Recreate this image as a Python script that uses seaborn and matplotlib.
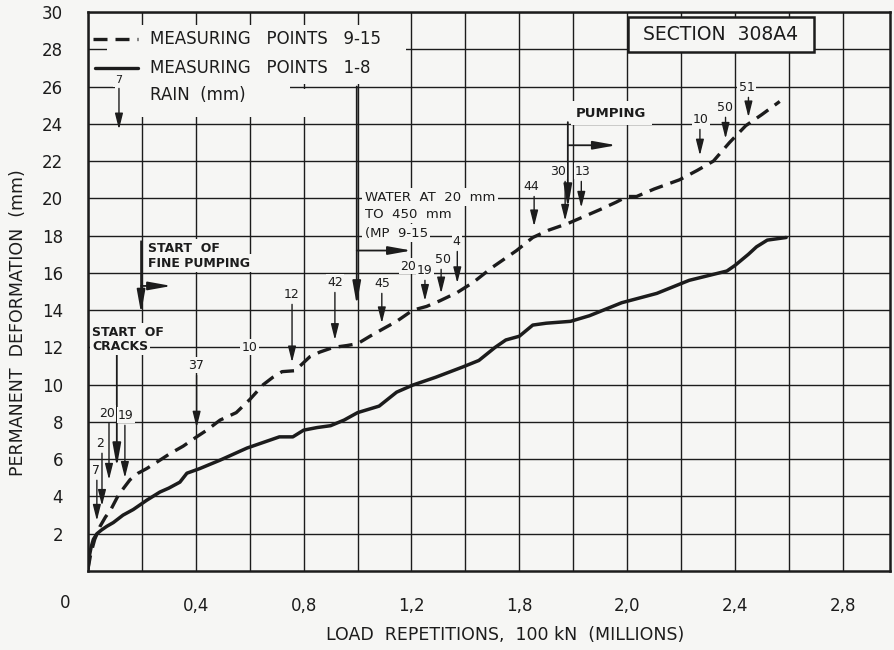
import matplotlib
matplotlib.use("Agg")
import matplotlib.pyplot as plt
from matplotlib.ticker import MultipleLocator
from matplotlib.patches import Rectangle
import pandas as pd
import seaborn as sns

# ---------------- data ----------------
mp9_x = [0.0, 0.01, 0.025, 0.045, 0.065, 0.085, 0.112, 0.135, 0.156, 0.186, 0.218,
         0.267, 0.304, 0.353, 0.403, 0.44, 0.49, 0.55, 0.60, 0.65, 0.686, 0.72,
         0.767, 0.79, 0.823, 0.86, 0.91, 0.96, 1.0, 1.046, 1.095, 1.145, 1.205,
         1.256, 1.305, 1.37, 1.43, 1.50, 1.59, 1.65, 1.71, 1.78, 1.82, 1.90,
         1.96, 2.0, 2.035, 2.10, 2.195, 2.26, 2.32, 2.38, 2.44, 2.50, 2.566]
mp9_y = [0.1, 0.9, 1.7, 2.4, 2.9, 3.3, 4.05, 4.5, 4.9, 5.25, 5.5,
         5.95, 6.3, 6.7, 7.2, 7.55, 8.1, 8.5, 9.2, 10.0, 10.4, 10.7,
         10.75, 11.05, 11.5, 11.75, 12.0, 12.1, 12.2, 12.6, 13.0, 13.4, 14.0,
         14.2, 14.5, 14.95, 15.5, 16.3, 17.2, 17.9, 18.3, 18.65, 18.9, 19.4,
         19.8, 20.1, 20.1, 20.5, 21.0, 21.5, 22.0, 23.0, 23.9, 24.5, 25.2]

mp1_x = [0.0, 0.005, 0.012, 0.02, 0.033, 0.05, 0.07, 0.094, 0.13, 0.168, 0.218,
         0.267, 0.30, 0.341, 0.367, 0.415, 0.49, 0.59, 0.65, 0.71, 0.76, 0.80,
         0.85, 0.90, 0.95, 1.0, 1.08, 1.145, 1.205, 1.29, 1.39, 1.45, 1.51,
         1.55, 1.60, 1.65, 1.70, 1.79, 1.86, 1.98, 2.11, 2.23, 2.37, 2.40,
         2.45, 2.48, 2.52, 2.59]
mp1_y = [0.1, 0.8, 1.3, 1.7, 2.0, 2.2, 2.4, 2.6, 3.0, 3.3, 3.8,
         4.24, 4.45, 4.77, 5.25, 5.5, 5.95, 6.6, 6.9, 7.2, 7.2, 7.56,
         7.7, 7.8, 8.1, 8.5, 8.85, 9.6, 9.98, 10.4, 10.95, 11.3, 12.0,
         12.4, 12.6, 13.2, 13.3, 13.4, 13.7, 14.4, 14.9, 15.6, 16.1, 16.4,
         17.0, 17.4, 17.76, 17.9]

# rain events (mm): label, arrow x, label position, arrow tip
rain_labels = ['7', '2', '20', '19', '37', '12', '42', '45', '19', '50', '4',
               '44', '30', '13', '10', '50', '51']
rain_x      = [0.033, 0.052, 0.078, 0.137, 0.403, 0.757, 0.916, 1.09, 1.25, 1.31, 1.37,
               1.655, 1.77, 1.83, 2.27, 2.365, 2.45]
rain_text_x = [0.030, 0.045, 0.070, 0.141, 0.400, 0.757, 0.916, 1.09, 1.25, 1.316, 1.368,
               1.643, 1.743, 1.835, 2.273, 2.362, 2.443]
rain_text_y = [5.42, 6.87, 8.48, 8.37, 11.05, 14.86, 15.5, 15.45, 16.15, 16.74, 17.7,
               20.65, 21.46, 21.46, 24.25, 24.9, 25.97]
rain_tip_y  = [2.7, 3.5, 4.9, 5.0, 7.7, 11.2, 12.4, 13.3, 14.5, 14.9, 15.45,
               18.5, 18.8, 19.5, 22.3, 23.2, 24.35]
# rain labels sitting on grid lines (no separate arrow)
grid_rain_labels = ['10', '20']
grid_rain_x = [0.60, 1.187]
grid_rain_y = [12.0, 16.36]

xtick_vals = [0.4, 0.8, 1.2, 1.6, 2.0, 2.4, 2.8]
xtick_labels = ['0,4', '0,8', '1,2', '1,8', '2,0', '2,4', '2,8']
ytick_vals = list(range(2, 31, 2))

# ---------------- style ----------------
sns.set_theme(style='white')
plt.rcParams['font.family'] = ['DejaVu Sans']
BG = '#f6f6f4'
INK = '#1c1c1c'

fig = plt.figure(figsize=(8.94, 6.5), dpi=100, facecolor=BG)
ax = fig.add_axes([0.0984, 0.1215, 0.8971, 0.86])
ax.set_facecolor(BG)

df9 = pd.DataFrame({'x': mp9_x, 'y': mp9_y})
df1 = pd.DataFrame({'x': mp1_x, 'y': mp1_y})
sns.lineplot(data=df9, x='x', y='y', ax=ax, color=INK, lw=2.4, sort=False,
             estimator=None, linestyle=(0, (4.2, 2.4)), zorder=4)
sns.lineplot(data=df1, x='x', y='y', ax=ax, color=INK, lw=2.5, sort=False,
             estimator=None, zorder=4, solid_joinstyle='round')

ax.set_xlim(0, 2.975)
ax.set_ylim(0, 30)
ax.set_xticks(xtick_vals)
ax.set_xticklabels(xtick_labels)
ax.xaxis.set_minor_locator(MultipleLocator(0.2))
ax.set_yticks(ytick_vals)
ax.grid(which='both', color=INK, lw=1.0)
ax.set_axisbelow(True)
ax.tick_params(axis='both', which='both', length=0, colors=INK)
ax.tick_params(axis='x', pad=19, labelsize=12)
ax.tick_params(axis='y', pad=18, labelsize=12)
for s in ax.spines.values():
    s.set_visible(True)
    s.set_color(INK)
    s.set_linewidth(1.8)

ax.set_ylabel('PERMANENT  DEFORMATION  (mm)', fontsize=12.5, va='center', color=INK)
ax.yaxis.set_label_coords(-0.0873, 0.444)
ax.set_xlabel('LOAD  REPETITIONS,  100 kN  (MILLIONS)', fontsize=12.5, va='center', color=INK)
ax.xaxis.set_label_coords(0.52, -0.1145)
ax.text(-0.085, -1.72, '0', fontsize=12, ha='center', va='center', color=INK, clip_on=False)


def lab(x, y, s, size=9, ha='center', va='center', weight='normal', pad=0.18):
    ax.text(x, y, s, fontsize=size, ha=ha, va=va, fontweight=weight, color=INK,
            zorder=6, bbox=dict(boxstyle=f'square,pad={pad}', fc=BG, ec='none'))


def arrow(x0, y0, x1, y1, lw=1.0, ms=12, hl=0.8, hw=0.2):
    ax.annotate('', xy=(x1, y1), xytext=(x0, y0), zorder=5,
                arrowprops=dict(arrowstyle=f'-|>,head_length={hl},head_width={hw}',
                                lw=lw, color=INK, shrinkA=0, shrinkB=0, mutation_scale=ms))


# blank areas behind the legend
for (rx, ry, rw, rh) in [(0.07, 26.15, 1.11, 3.15), (0.10, 24.35, 0.72, 1.5),
                         (0.10, 25.8, 0.65, 0.4)]:
    ax.add_patch(Rectangle((rx, ry), rw, rh, fc=BG, ec='none', zorder=1))

# legend
ax.plot([0.019, 0.185], [28.54, 28.54], color=INK, lw=2.4, linestyle=(0, (4.2, 2.4)), zorder=5)
ax.plot([0.026, 0.185], [26.98, 26.98], color=INK, lw=2.4, zorder=5)
lab(0.23, 28.54, 'MEASURING   POINTS   9-15', size=12, ha='left', pad=0.1)
lab(0.23, 26.98, 'MEASURING   POINTS   1-8', size=12, ha='left', pad=0.1)
lab(0.23, 25.54, 'RAIN  (mm)', size=12, ha='left', pad=0.1)
lab(0.115, 26.35, '7', size=8)
arrow(0.115, 25.9, 0.115, 23.7)

# section box
ax.add_patch(Rectangle((2.002, 27.84), 0.69, 1.88, fc=BG, ec=INK, lw=1.8, zorder=5))
ax.text(2.347, 28.78, 'SECTION  308A4', fontsize=13.5, ha='center', va='center', color=INK, zorder=6)

# rain arrows
for s, xa, xt, yt, ytip in zip(rain_labels, rain_x, rain_text_x, rain_text_y, rain_tip_y):
    lab(xt, yt, s, size=9, pad=0.1)
    arrow(xa, yt - 0.55, xa, ytip)
for s, xt, yt in zip(grid_rain_labels, grid_rain_x, grid_rain_y):
    lab(xt, yt, s, size=9, pad=0.12)

BIG = dict(lw=1.3, ms=14, hl=1.0, hw=0.18)

# start of cracks
lab(0.015, 12.82, 'START  OF', size=9, ha='left', weight='bold')
lab(0.015, 12.07, 'CRACKS', size=9, ha='left', weight='bold')
arrow(0.107, 11.6, 0.107, 5.6, **BIG)

# start of fine pumping
lab(0.222, 17.33, 'START  OF', size=9, ha='left', weight='bold')
lab(0.222, 16.52, 'FINE PUMPING', size=9, ha='left', weight='bold')
arrow(0.197, 17.7, 0.197, 13.84, **BIG)
arrow(0.197, 15.3, 0.31, 15.3, **BIG)

# water
lab(1.027, 20.06, 'WATER  AT  20  mm', size=9.5, ha='left')
lab(1.027, 19.15, 'TO  450  mm', size=9.5, ha='left')
lab(1.027, 18.13, '(MP  9-15', size=9.5, ha='left')
arrow(0.997, 26.0, 0.997, 14.3, **BIG)
arrow(0.997, 17.2, 1.20, 17.2, **BIG)

# pumping
lab(1.81, 24.57, 'PUMPING', size=9.5, ha='left', weight='bold', pad=0.4)
arrow(1.78, 24.09, 1.78, 19.5, **BIG)
arrow(1.78, 22.85, 1.96, 22.85, **BIG)

fig.savefig('out.png', dpi=100, facecolor=BG)
